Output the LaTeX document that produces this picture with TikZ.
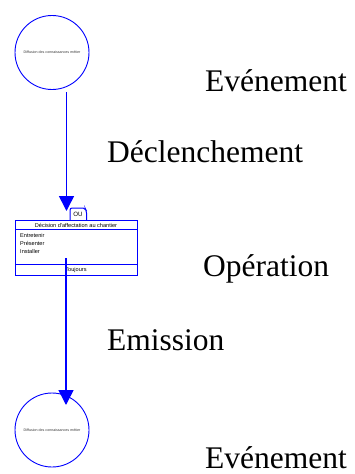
\documentclass[tikz,border=0pt]{standalone}
\usepackage{fontspec}
\setmainfont{Liberation Serif}
\newfontfamily\smallsans{Liberation Sans}
\usetikzlibrary{arrows.meta}
\definecolor{mblue}{RGB}{0,0,255}
\tikzset{
  event/.style={circle, draw=mblue, line width=0.9pt, minimum size=74pt, inner sep=0pt,
                font=\smallsans\fontsize{3.6}{4}\selectfont, text=black!80},
  biglabel/.style={anchor=base west, inner sep=0pt, font=\fontsize{31.5}{36}\selectfont},
  boxtext/.style={inner sep=0pt, font=\smallsans\fontsize{5.6}{6.5}\selectfont},
  frame/.style={draw=mblue, line width=1pt},
  flow/.style={draw=mblue, line width=1.6pt, -{Triangle[width=15pt,length=15pt]}},
}
\begin{document}
\begin{tikzpicture}[x=1pt, y=-1pt]
\useasboundingbox (0,0) rectangle (354,474);

% events
\node[event] (e1) at (52,52.5) {Diffusion des connaissances m\'etier};
\node[event] (e2) at (52,430) {Diffusion des connaissances m\'etier};

% operation box
\draw[frame] (15,220) rectangle (137,275);
\draw[frame] (15,229.5) -- (137,229.5);
\draw[frame] (15,264.5) -- (137,264.5);
\node[boxtext] (title) at (76,225) {D\'ecision d'affectation au chantier};
\node[boxtext, anchor=base west] (i1) at (20,237) {Entretenir};
\node[boxtext, anchor=base west] (i2) at (20,245) {Pr\'esenter};
\node[boxtext, anchor=base west] (i3) at (20,253) {Installer};
\node[boxtext] (tj) at (76,270) {Toujours};

% synchronisation tab
\draw[frame, fill=white, rounded corners=2pt] (70,220) -- (70,208) -- (85,208) -- (86.5,211) -- (86.5,220);
\draw[frame, sharp corners] (70,220) -- (86.5,220);
\node[boxtext, font=\smallsans\fontsize{6.2}{7}\selectfont] (ou) at (78,214.5) {OU};

% connectors
\coordinate (top) at (66.5,92);
\coordinate (tabtop) at (66.5,211);
\coordinate (out) at (66,258);
\coordinate (in) at (66,405);
\draw[flow] (top) -- (tabtop);
\draw[flow] (out) -- (in);

% captions
\node[biglabel] (l1) at (205,91) {Ev\'enement};
\node[biglabel] (l2) at (107,162) {D\'eclenchement};
\node[biglabel] (l3) at (203,276) {Op\'eration};
\node[biglabel] (l4) at (107,350) {Emission};
\node[biglabel] (l5) at (205,468) {Ev\'enement};
\end{tikzpicture}
\end{document}
